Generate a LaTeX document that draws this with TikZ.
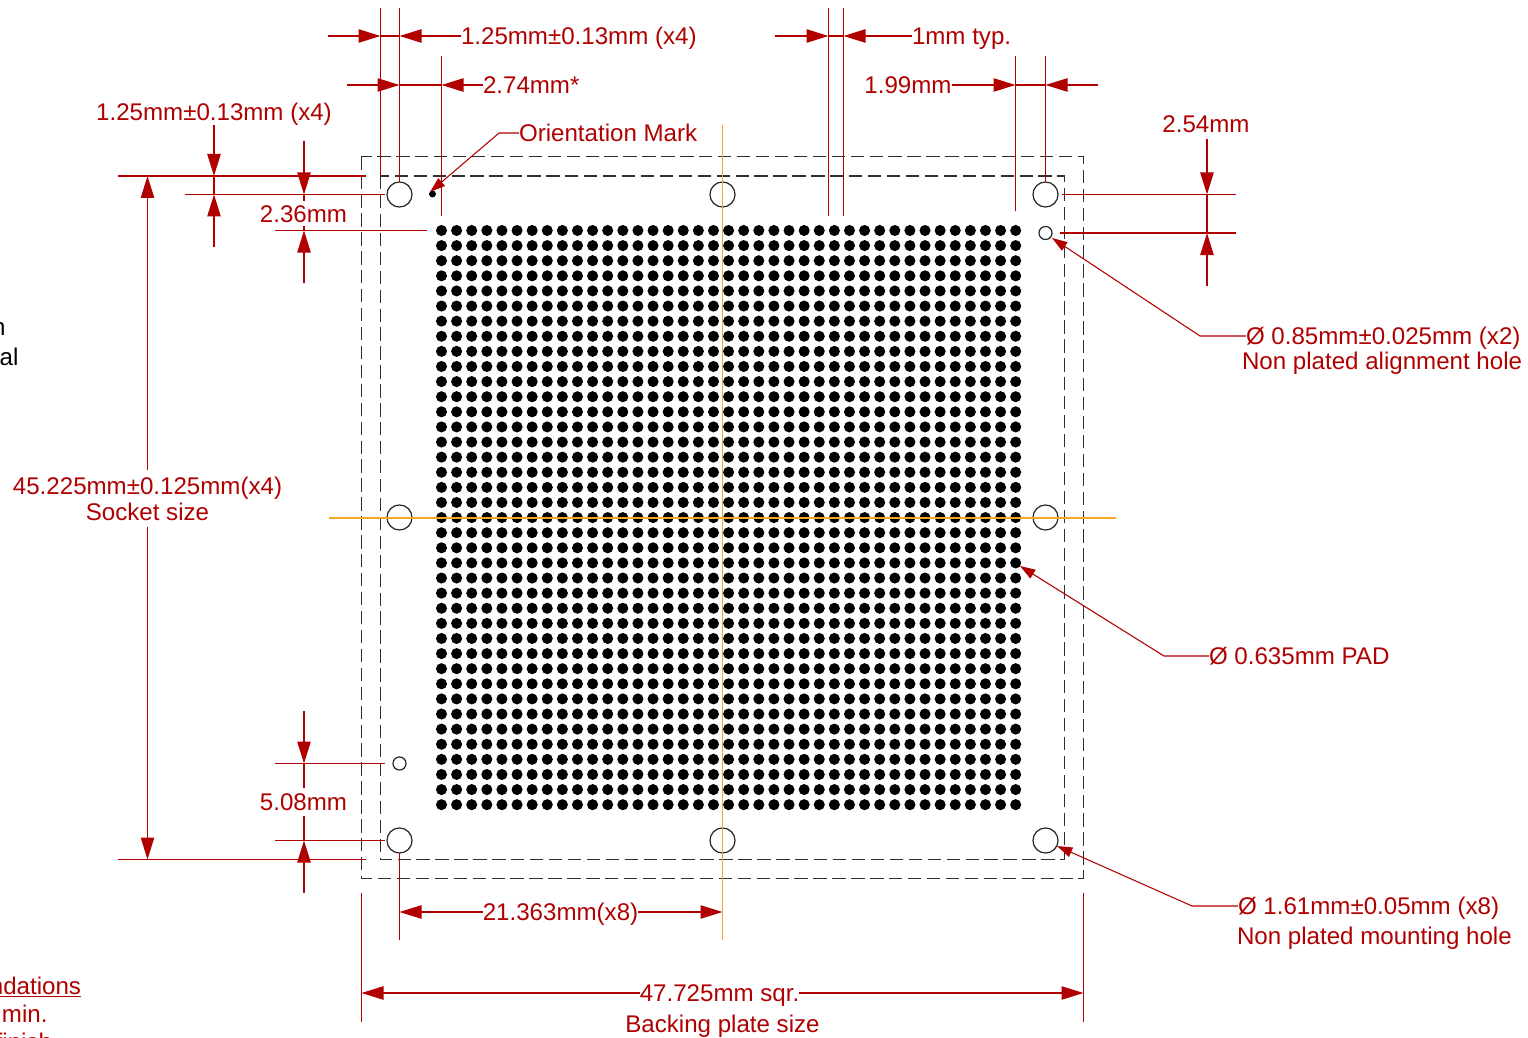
\documentclass[tikz,border=0pt]{standalone}
\usepackage{fontspec}
\setmainfont{Liberation Sans}
\usetikzlibrary{arrows.meta}
\definecolor{dimred}{HTML}{B00000}
\definecolor{guide}{HTML}{F5A623}
\definecolor{dashgray}{HTML}{303030}
\tikzset{
  x=0.75pt,y=-0.75pt,
  dimline/.style={draw=dimred,line width=1.05pt},
  tip/.style={dimline,-{Triangle[length=16.5pt,width=10pt,fill=dimred]}},
  leadertip/.style={dimline,line width=0.8pt,-{Triangle[length=11.5pt,width=7.5pt,fill=dimred]}},
  lab/.style={inner sep=0pt,outer sep=0pt,text=dimred,font=\fontsize{18.08}{21}\selectfont,text height=12.8pt,text depth=0pt},
  blacklab/.style={lab,text=black},
  outline/.style={draw=dashgray,line width=0.9pt,dash pattern=on 10pt off 4.2pt},
  guideline/.style={draw=guide,line width=1.2pt},
  bighole/.style={circle,draw=black!85,line width=0.9pt,minimum size=18.8pt,inner sep=0pt,outer sep=0pt},
  smallhole/.style={circle,draw=black!85,line width=0.9pt,minimum size=9.8pt,inner sep=0pt,outer sep=0pt},
  markdot/.style={circle,fill=black,minimum size=5.2pt,inner sep=0pt,outer sep=0pt},
}
\begin{document}
\begin{tikzpicture}
\clip (0,0) rectangle (1528,1038);
\fill[white] (0,0) rectangle (1528,1038);

% package outlines
\draw[outline] (361.5,156.5) rectangle (1083.5,878.5);
\draw[outline] (380.5,176) rectangle (1064.5,859.5);

% pad array
\foreach \i in {0,...,38}{
  \foreach \j in {0,...,38}{
    \fill[black] ({441.5+\i*15.11},{230.5+\j*15.11}) circle[radius=4.15pt];
  }
}

% holes
\node[bighole] (h1) at (399.5,194.5) {};
\node[bighole] (h2) at (722.5,194.5) {};
\node[bighole] (h3) at (1045.5,194.5) {};
\node[bighole] (h4) at (399.5,517.5) {};
\node[bighole] (h5) at (1045.5,517.5) {};
\node[bighole] (h6) at (399.5,840.5) {};
\node[bighole] (h7) at (722.5,840.5) {};
\node[bighole] (h8) at (1045.5,840.5) {};
\node[smallhole] (a1) at (1045.5,233) {};
\node[smallhole] (a2) at (399.5,763.5) {};
\node[markdot] (om) at (432.5,194) {};

% centre lines
\coordinate (gv1) at (722.5,125); \coordinate (gv2) at (722.5,940);
\coordinate (gh1) at (329,517.7); \coordinate (gh2) at (1116,517.7);
\draw[guideline] (gv1) -- (gv2);
\draw[guideline] (gh1) -- (gh2);

% labels
\node[lab,anchor=west] (t125a) at (461,36) {1.25mm±0.13mm (x4)};
\node[lab,anchor=west] (t274) at (483,85) {2.74mm*};
\node[lab,anchor=west] (t1mm) at (912,36) {1mm typ.};
\node[lab,anchor=east] (t199) at (951.5,85) {1.99mm};
\node[lab] (t254) at (1206,124) {2.54mm};
\node[lab] (t125b) at (214,112) {1.25mm±0.13mm (x4)};
\node[lab,anchor=west] (torient) at (519,133) {Orientation Mark};
\node[lab] (t236) at (303.5,213.5) {2.36mm};
\node[lab,anchor=west] (t085) at (1246,336) {Ø 0.85mm±0.025mm (x2)};
\node[lab,anchor=west] (t085b) at (1242,361) {Non plated alignment hole};
\node[lab] (t45) at (147.5,486) {45.225mm±0.125mm(x4)};
\node[lab] (tsock) at (147.5,512) {Socket size};
\node[lab,anchor=west] (t635) at (1209,656) {Ø 0.635mm PAD};
\node[lab] (t508) at (303.5,802) {5.08mm};
\node[lab,anchor=west] (t161) at (1238,906) {Ø 1.61mm±0.05mm (x8)};
\node[lab,anchor=west] (t161b) at (1237,936) {Non plated mounting hole};
\node[lab] (t21) at (560.5,912) {21.363mm(x8)};
\node[lab] (t47) at (719.5,993) {47.725mm sqr.};
\node[lab] (tback) at (722.5,1024) {Backing plate size};
\node[blacklab,anchor=east] (tn) at (5.5,327) {n};
\node[blacklab,anchor=east] (tal) at (18.5,357) {al};
\node[lab,anchor=east] (tnd) at (81,986) {\underline{ndations}};
\node[lab,anchor=east] (tmin) at (47.5,1014) {min.};
\node[lab,anchor=east] (tfin) at (52,1042) {finish};

% top-left dimensions
\coordinate (e1t) at (380.5,8); \coordinate (e1b) at (380.5,176);
\coordinate (e2t) at (399.5,8);
\coordinate (e3t) at (441.5,56); \coordinate (e3b) at (441.5,216);
\draw[dimline] (e1t) -- (e1b);
\draw[dimline] (e2t) -- (h1.north);
\draw[dimline] (e3t) -- (e3b);
\coordinate (d1a) at (328,36); \coordinate (d1t) at (380.5,36); \coordinate (d1u) at (399.5,36);
\draw[tip] (d1a) -- (d1t);
\draw[tip] (t125a.west) -- (d1u);
\draw[dimline] (d1t) -- (d1u);
\coordinate (d2a) at (347,85); \coordinate (d2t) at (399.5,85); \coordinate (d2u) at (441.5,85);
\draw[tip] (d2a) -- (d2t);
\draw[tip] (t274.west) -- (d2u);
\draw[dimline] (d2t) -- (d2u);

% top-right dimensions
\coordinate (e4t) at (828.5,8); \coordinate (e4b) at (828.5,216);
\coordinate (e5t) at (843.5,8); \coordinate (e5b) at (843.5,216);
\coordinate (e6t) at (1015.5,56); \coordinate (e6b) at (1015.5,211);
\coordinate (e7t) at (1045.5,56);
\draw[dimline] (e4t) -- (e4b);
\draw[dimline] (e5t) -- (e5b);
\draw[dimline] (e6t) -- (e6b);
\draw[dimline] (e7t) -- (h3.north);
\coordinate (d3a) at (775,36); \coordinate (d3t) at (828.5,36); \coordinate (d3u) at (843.5,36);
\draw[tip] (d3a) -- (d3t);
\draw[tip] (t1mm.west) -- (d3u);
\draw[dimline] (d3t) -- (d3u);
\coordinate (d4t) at (1015.5,85); \coordinate (d4u) at (1045.5,85); \coordinate (d4a) at (1098,85);
\draw[tip] (t199.east) -- (d4t);
\draw[tip] (d4a) -- (d4u);
\draw[dimline] (d4t) -- (d4u);

% 2.54mm
\coordinate (e8a) at (1062,194.5); \coordinate (e8b) at (1236,194.5);
\coordinate (e9a) at (1060,233); \coordinate (e9b) at (1236,233);
\draw[dimline] (e8a) -- (e8b);
\draw[dimline] (e9a) -- (e9b);
\coordinate (d5s) at (1207,139); \coordinate (d5t) at (1207,194.5); \coordinate (d5u) at (1207,233); \coordinate (d5a) at (1207,286);
\draw[tip] (d5s) -- (d5t);
\draw[tip] (d5a) -- (d5u);
\draw[dimline] (d5t) -- (d5u);

% left dimensions, top
\coordinate (e10a) at (118,176); \coordinate (e10b) at (366,176);
\coordinate (e11a) at (185,194.5); \coordinate (e11b) at (385,194.5);
\coordinate (e12a) at (275,230.5); \coordinate (e12b) at (427,230.5);
\draw[dimline] (e10a) -- (e10b);
\draw[dimline] (e11a) -- (e11b);
\draw[dimline] (e12a) -- (e12b);
\coordinate (d6s) at (214,125); \coordinate (d6e) at (214,247);
\coordinate (d6t) at (214,176); \coordinate (d6u) at (214,194.5);
\draw[tip] (d6s) -- (d6t);
\draw[tip] (d6e) -- (d6u);
\draw[dimline] (d6t) -- (d6u);
\coordinate (d7s) at (304,141); \coordinate (d7e) at (304,283);
\coordinate (d7m) at (304,201); \coordinate (d7n) at (304,226);
\coordinate (d7t) at (304,194.5); \coordinate (d7u) at (304,230.5);
\draw[tip] (d7s) -- (d7t);
\draw[dimline] (d7t) -- (d7m);
\draw[tip] (d7e) -- (d7u);
\draw[dimline] (d7u) -- (d7n);

% socket size
\coordinate (e13a) at (118,859.5); \coordinate (e13b) at (366,859.5);
\draw[dimline] (e13a) -- (e13b);
\coordinate (d8s) at (147.5,470); \coordinate (d8e) at (147.5,527);
\coordinate (d8t) at (147.5,176); \coordinate (d8u) at (147.5,859.5);
\draw[tip] (d8s) -- (d8t);
\draw[tip] (d8e) -- (d8u);

% 5.08mm
\coordinate (e14a) at (275,763.5); \coordinate (e14b) at (385,763.5);
\coordinate (e15a) at (275,840.5); \coordinate (e15b) at (385,840.5);
\draw[dimline] (e14a) -- (e14b);
\draw[dimline] (e15a) -- (e15b);
\coordinate (d9s) at (304,711); \coordinate (d9e) at (304,893);
\coordinate (d9m) at (304,788); \coordinate (d9n) at (304,816);
\coordinate (d9t) at (304,763.5); \coordinate (d9u) at (304,840.5);
\draw[tip] (d9s) -- (d9t);
\draw[dimline] (d9t) -- (d9m);
\draw[tip] (d9e) -- (d9u);
\draw[dimline] (d9u) -- (d9n);

% bottom dimensions
\coordinate (e16b) at (399.5,940);
\draw[dimline] (h6.south) -- (e16b);
\coordinate (d10t) at (399.5,912); \coordinate (d10u) at (722.5,912);
\draw[tip] (t21.west) -- (d10t);
\draw[tip] (t21.east) -- (d10u);
\coordinate (e17a) at (361.5,893); \coordinate (e17b) at (361.5,1022);
\coordinate (e18a) at (1083.5,893); \coordinate (e18b) at (1083.5,1022);
\draw[dimline] (e17a) -- (e17b);
\draw[dimline] (e18a) -- (e18b);
\coordinate (d11t) at (361.5,993); \coordinate (d11u) at (1083.5,993);
\draw[tip] (t47.west) -- (d11t);
\draw[tip] (t47.east) -- (d11u);

% leaders
\coordinate (l1) at (499,133); \coordinate (l1t) at (430,192);
\draw[leadertip] (torient.west) -- (l1) -- (l1t);
\coordinate (l2) at (1200,336); \coordinate (l2t) at (1052,238);
\draw[leadertip] (t085.west) -- (l2) -- (l2t);
\coordinate (l3) at (1164,656); \coordinate (l3t) at (1020,566);
\draw[leadertip] (t635.west) -- (l3) -- (l3t);
\coordinate (l4) at (1192,906); \coordinate (l4t) at (1057,846);
\draw[leadertip] (t161.west) -- (l4) -- (l4t);
\end{tikzpicture}
\end{document}
